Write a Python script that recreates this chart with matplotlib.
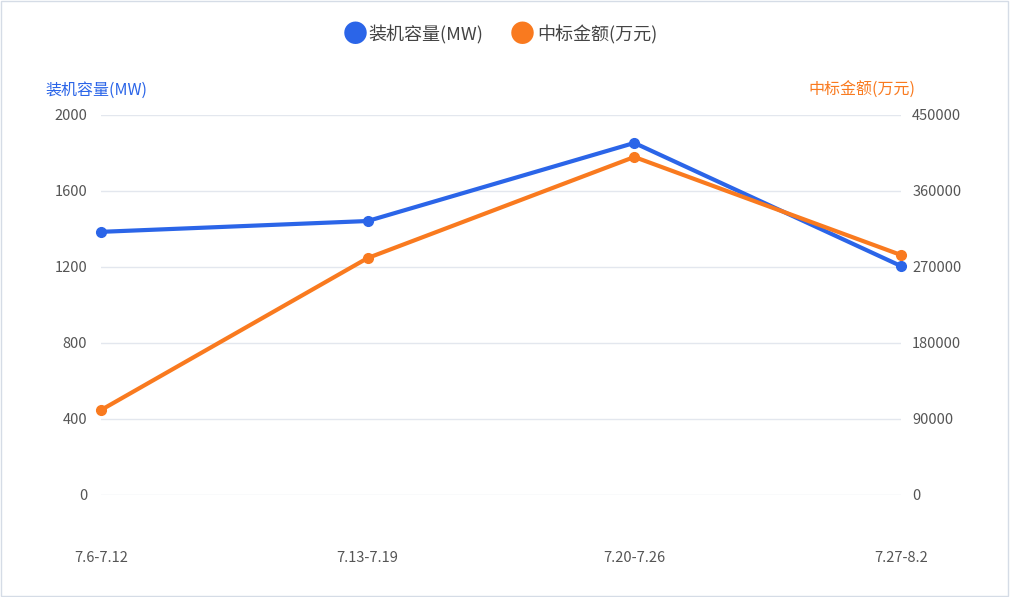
import matplotlib
matplotlib.use("Agg")
import matplotlib.pyplot as plt
from matplotlib.patches import Rectangle

plt.rcParams['font.family'] = ['Noto Sans CJK SC', 'DejaVu Sans']

categories = ["7.6-7.12", "7.13-7.19", "7.20-7.26", "7.27-8.2"]
capacity = [1385, 1442, 1853, 1205]
amount = [100600, 280600, 400300, 284200]
left_ticks = [0, 400, 800, 1200, 1600, 2000]
right_ticks = [0, 90000, 180000, 270000, 360000, 450000]

blue = "#2b65e8"
orange = "#f97a1f"

fig = plt.figure(figsize=(10.10, 5.97), dpi=100)
fig.patches.append(Rectangle((0.001, 0.002), 0.997, 0.996, transform=fig.transFigure,
                             fill=False, edgecolor="#d5dce6", linewidth=1))
ax = fig.add_axes([101/1010, 1-495/597, 800/1010, 380/597])
ax2 = ax.twinx()
x = range(len(categories))
ax.plot(x, capacity, color=blue, lw=3, marker="o", ms=7, zorder=3, clip_on=False)
ax2.plot(x, amount, color=orange, lw=3, marker="o", ms=7, zorder=3, clip_on=False)
ax.set_xlim(0, 3)
ax.set_ylim(0, 2000)
ax2.set_ylim(0, 450000)
ax.set_yticks(left_ticks)
ax2.set_yticks(right_ticks)
ax.set_xticks(list(x))
ax.set_xticklabels(categories)
ax.grid(axis="y", color="#e3e7ee", lw=1)
ax.set_axisbelow(True)
for a in (ax, ax2):
    for s in a.spines.values():
        s.set_visible(False)
    a.tick_params(length=0, labelsize=10.5, colors="#555555")
ax.tick_params(axis="x", pad=40)
ax.tick_params(axis="y", pad=10)
ax2.tick_params(axis="y", pad=8)
fig.text(45/1010, 1-90/597, "装机容量(MW)", color=blue, fontsize=11.5, va="center")
fig.text(915/1010, 1-90/597, "中标金额(万元)", color=orange, fontsize=11.5, va="center", ha="right")
fig.text(355/1010, 1-35/597, "●", color=blue, fontsize=18, va="center", ha="center")
fig.text(368/1010, 1-35/597, "装机容量(MW)", color="#444444", fontsize=13, va="center")
fig.text(522/1010, 1-35/597, "●", color=orange, fontsize=18, va="center", ha="center")
fig.text(537/1010, 1-35/597, "中标金额(万元)", color="#444444", fontsize=13, va="center")
fig.savefig("out.png", dpi=100)
